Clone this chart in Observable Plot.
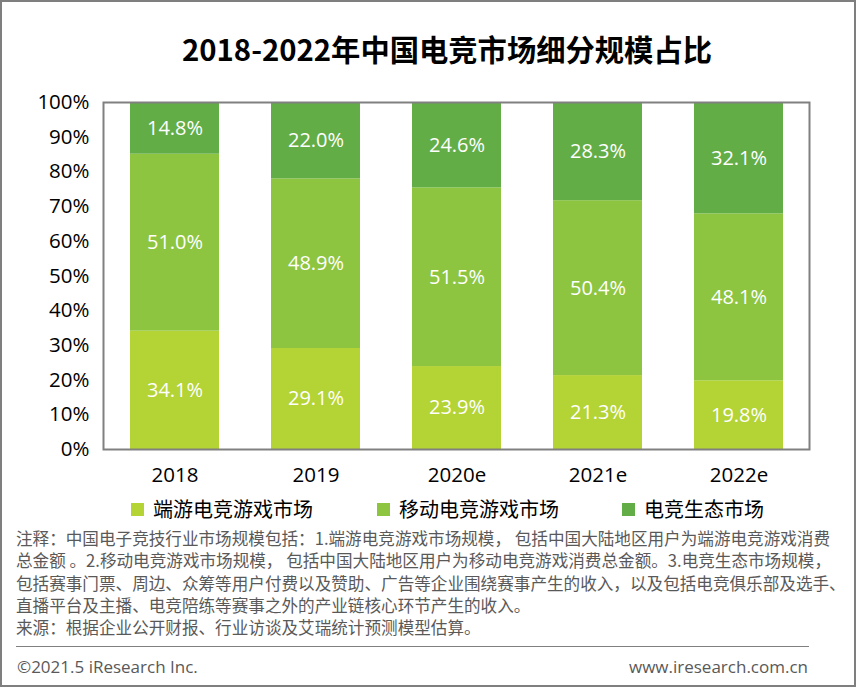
<!DOCTYPE html>
<html><head><meta charset="utf-8">
<script src="https://cdn.jsdelivr.net/npm/d3@7"></script>
<script src="https://cdn.jsdelivr.net/npm/@observablehq/plot@0.6"></script>
<style>
body{margin:0;background:#fff;}
#wrap{position:relative;width:856px;height:687px;overflow:hidden;font-family:"Open Sans","Noto Sans CJK SC",sans-serif;}
#border{position:absolute;left:0;top:0;width:856px;height:687px;box-sizing:border-box;border:2px solid #7f7f7f;pointer-events:none;}
#title{position:absolute;left:0;width:856px;top:28px;text-align:center;padding-left:38px;box-sizing:border-box;font-family:"Noto Sans CJK SC",sans-serif;font-weight:bold;font-size:29.3px;line-height:40px;color:#000;}
#chart{position:absolute;left:0;top:80px;}
.leg{position:absolute;top:497px;font-family:"Noto Sans CJK SC",sans-serif;font-size:20px;line-height:24px;color:#000;display:flex;align-items:center;}
.leg span.sw{display:inline-block;width:13px;height:13px;margin-right:9px;}
#note{position:absolute;left:16px;top:527px;font-family:"Noto Sans CJK SC",sans-serif;font-size:16.6px;line-height:22.3px;color:#595959;white-space:nowrap;}
#sep{position:absolute;left:16px;top:646px;width:793px;height:1px;background:#808080;}
.foot{position:absolute;top:655px;font-family:"Open Sans",sans-serif;font-size:17px;line-height:24px;color:#595959;}
</style></head>
<body>
<div id="wrap">
  <div id="title">2018-2022年中国电竞市场细分规模占比</div>
  <div id="chart"></div>
  <div id="legend"></div>
  <div id="note"></div>
  <div id="sep"></div>
  <div class="foot" style="left:17px;">©2021.5 iResearch Inc.</div>
  <div class="foot" style="right:48px;">www.iresearch.com.cn</div>
  <div id="border"></div>
</div>
<script>
const years = ["2018", "2019", "2020e", "2021e", "2022e"];
const seriesNames = ["端游电竞游戏市场", "移动电竞游戏市场", "电竞生态市场"];
const pcGame = [34.1, 29.1, 23.9, 21.3, 19.8];
const mobileGame = [51.0, 48.9, 51.5, 50.4, 48.1];
const ecosystem = [14.8, 22.0, 24.6, 28.3, 32.1];
const seriesColors = ["#b4d334", "#8dc540", "#63ad47"];
const yTicks = [0, 10, 20, 30, 40, 50, 60, 70, 80, 90, 100];
const noteLines = [
  "注释：中国电子竞技行业市场规模包括：1.端游电竞游戏市场规模， 包括中国大陆地区用户为端游电竞游戏消费",
  "总金额 。2.移动电竞游戏市场规模， 包括中国大陆地区用户为移动电竞游戏消费总金额。3.电竞生态市场规模，",
  "包括赛事门票、周边、众筹等用户付费以及赞助、广告等企业围绕赛事产生的收入，以及包括电竞俱乐部及选手、",
  "直播平台及主播、电竞陪练等赛事之外的产业链核心环节产生的收入。",
  "来源：根据企业公开财报、行业访谈及艾瑞统计预测模型估算。"
];

const allValues = [pcGame, mobileGame, ecosystem];
const data = [];
seriesNames.forEach((s, i) => years.forEach((y, j) => data.push({year: y, series: s, value: allValues[i][j]})));

const chart = Plot.plot({
  width: 856,
  height: 410,
  marginLeft: 103,
  marginRight: 47,
  marginTop: 22,
  marginBottom: 41,
  style: {fontFamily: '"Open Sans","Noto Sans CJK SC",sans-serif', fontSize: "20.5px", color: "#000", background: "transparent"},
  x: {domain: years, paddingInner: 0.37, paddingOuter: 0.184, label: null, tickSize: 0, tickPadding: 18},
  y: {domain: [0, 100], ticks: yTicks, tickFormat: d => d + "%", label: null, tickSize: 0, tickPadding: 14},
  color: {domain: seriesNames, range: seriesColors},
  marks: [
    Plot.barY(data, Plot.stackY({x: "year", y: "value", fill: "series", order: seriesNames})),
    Plot.text(data, Plot.stackY({x: "year", y: "value", z: "series", order: seriesNames,
      text: d => d.value.toFixed(1) + "%", fill: "white", fontSize: 20})),
    Plot.frame({stroke: "#808080", strokeWidth: 2})
  ]
});
document.getElementById("chart").appendChild(chart);

const legPos = [[131, 153], [377, 396], [622, 640]];
const legend = document.getElementById("legend");
seriesNames.forEach((s, i) => {
  const d = document.createElement("div");
  d.className = "leg";
  d.style.left = legPos[i][0] + "px";
  d.innerHTML = `<span class="sw" style="background:${seriesColors[i]}"></span><span>${s}</span>`;
  legend.appendChild(d);
});
document.getElementById("note").innerHTML = noteLines.map(l => `<div>${l}</div>`).join("");
</script>
</body></html>
